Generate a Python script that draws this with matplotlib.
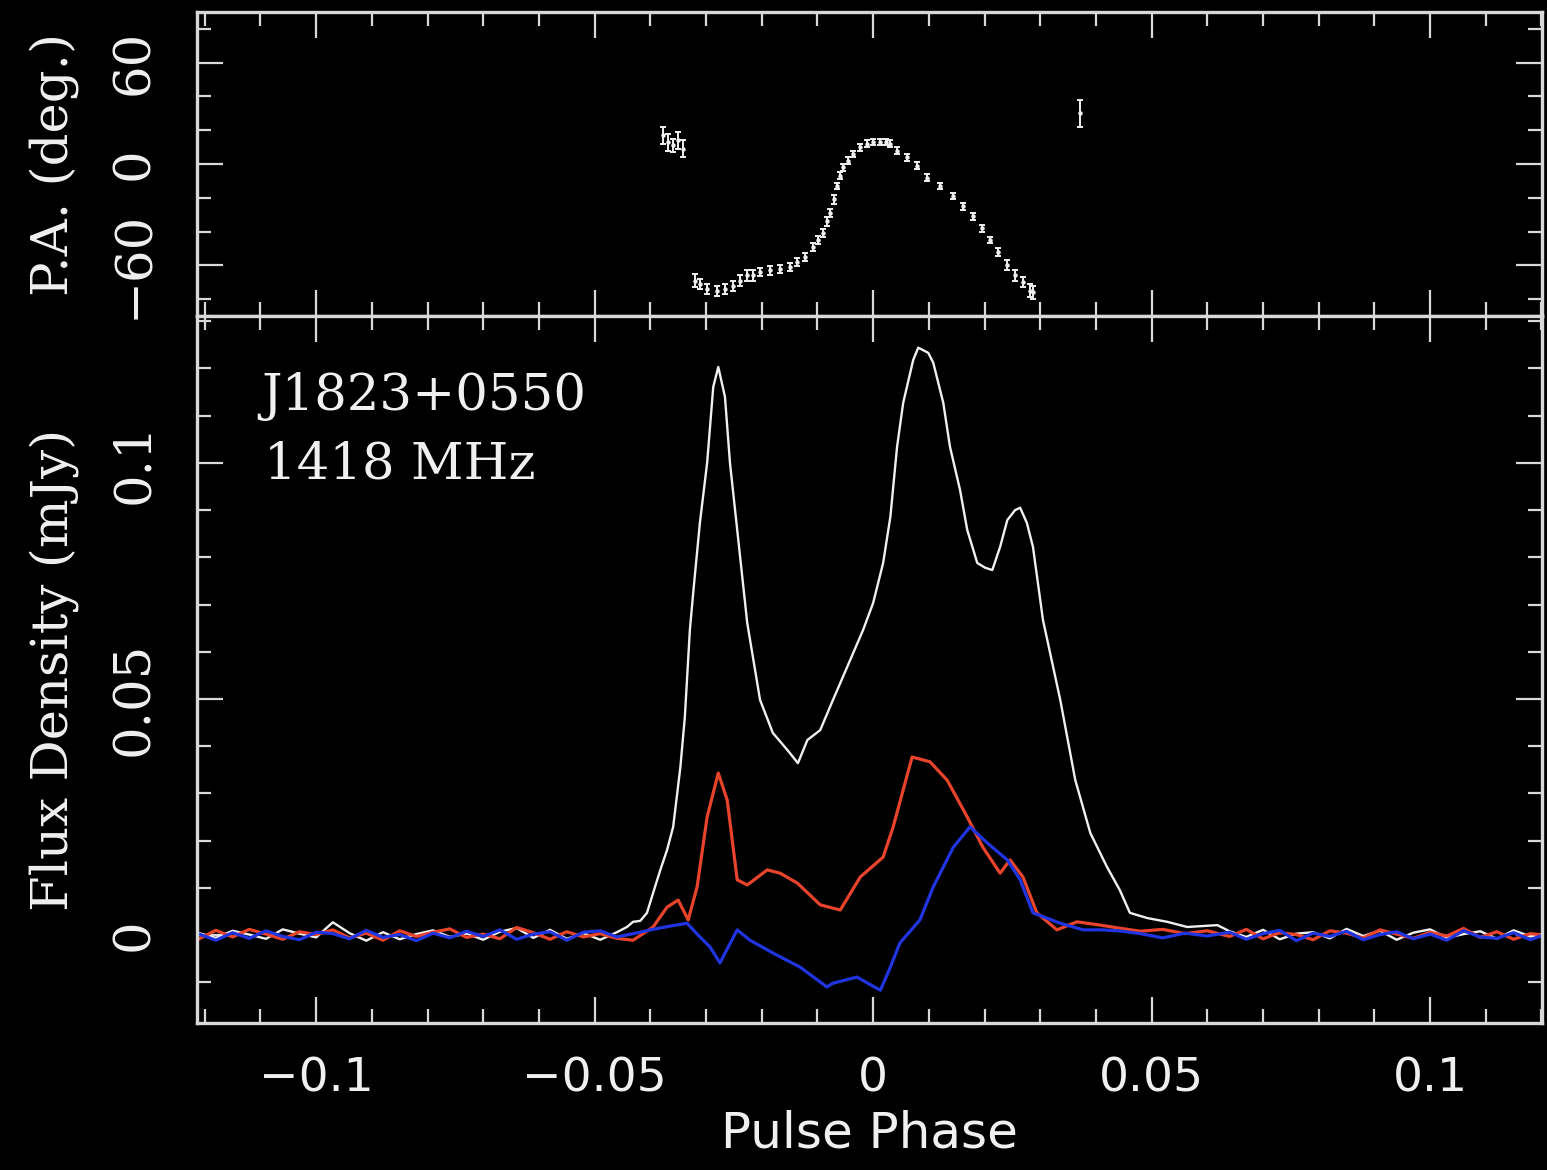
import numpy as np
import matplotlib.pyplot as plt
from matplotlib.ticker import MultipleLocator, FuncFormatter

BG = "black"
FG = "#d8d8d8"
WHITE = "#f0f0f0"
RED = "#e8432b"
BLUE = "#2034e0"

# off-pulse sample phases
base_left = np.arange(-0.121, -0.0455, 0.003)
base_right = np.arange(0.064, 0.1215, 0.003)

# total intensity (mJy)
i_left = [0.0004, -0.0006, 0.0009, 0.0001, -0.0008, 0.0012, 0.0003, -0.0005, 0.0027,
          0.0004, -0.0012, 0.0006, -0.0009, 0.0002, 0.0010, -0.0004, 0.0003, -0.0010,
          0.0007, 0.0015, -0.0006, 0.0011, -0.0008, 0.0004, -0.0010, 0.0006]
i_right = [0.0008, -0.0004, 0.0011, -0.0009, 0.0003, 0.0006, -0.0007, 0.0013, -0.0002,
           0.0009, -0.0010, 0.0005, 0.0012, -0.0006, 0.0002, 0.0008, -0.0008, 0.0010,
           -0.0003, 0.0004]
i_phase = [-0.0442, -0.0431, -0.0418, -0.0406, -0.0395, -0.0382, -0.0370, -0.0359,
           -0.0346, -0.0338, -0.0329, -0.0323, -0.0311, -0.0298, -0.0287, -0.0278,
           -0.0266, -0.0257, -0.0244, -0.0226, -0.0203, -0.0180, -0.0154, -0.0135,
           -0.0118, -0.0095, -0.0072, -0.0045, -0.0018, 0.0, 0.0018, 0.0031, 0.0043,
           0.0054, 0.0072, 0.0081, 0.0099, 0.0108, 0.0126, 0.0138, 0.0156, 0.0169,
           0.0187, 0.0201, 0.0214, 0.0228, 0.0241, 0.0255, 0.0264, 0.0276, 0.0287,
           0.0305, 0.0336, 0.0363, 0.0390, 0.0420, 0.0443, 0.0461, 0.0492, 0.0528,
           0.0564, 0.0618]
i_flux = [0.0017, 0.0028, 0.0030, 0.0047, 0.0089, 0.0138, 0.0180, 0.0229, 0.0356,
          0.0462, 0.0646, 0.0725, 0.0873, 0.1000, 0.1161, 0.1203, 0.1140, 0.1000,
          0.0858, 0.0661, 0.0498, 0.0428, 0.0392, 0.0364, 0.0413, 0.0434, 0.0498,
          0.0572, 0.0646, 0.0703, 0.0788, 0.0886, 0.1034, 0.1127, 0.1218, 0.1244,
          0.1233, 0.1212, 0.1127, 0.1034, 0.0943, 0.0858, 0.0788, 0.0778, 0.0773,
          0.0822, 0.0879, 0.0900, 0.0905, 0.0873, 0.0822, 0.0667, 0.0498, 0.0328,
          0.0216, 0.0144, 0.0095, 0.0047, 0.0036, 0.0028, 0.0017, 0.0021]

# linear polarisation (mJy)
l_left = [-0.0008, 0.0010, -0.0004, 0.0012, 0.0002, -0.0009, 0.0007, 0.0001, 0.0011,
          -0.0006, 0.0004, -0.0011, 0.0009, -0.0003, 0.0006, 0.0013, -0.0005, 0.0002,
          -0.0008, 0.0016, 0.0005, -0.0009, 0.0007, -0.0004, 0.0003, -0.0007]
l_right = [-0.0003, 0.0012, -0.0008, 0.0005, 0.0001, -0.0010, 0.0009, 0.0004, -0.0006,
           0.0011, 0.0002, -0.0007, 0.0006, -0.0002, 0.0014, -0.0005, 0.0007, -0.0009,
           0.0003, -0.0001]
l_phase = [-0.0431, -0.0395, -0.0370, -0.0350, -0.0332, -0.0316, -0.0298, -0.0278,
           -0.0262, -0.0244, -0.0226, -0.0190, -0.0167, -0.0136, -0.0095, -0.0059,
           -0.0023, 0.0018, 0.0036, 0.0070, 0.0102, 0.0133, 0.0169, 0.0197, 0.0228,
           0.0246, 0.0269, 0.0294, 0.0330, 0.0366, 0.0408, 0.044, 0.048, 0.052, 0.056,
           0.060]
l_flux = [-0.0011, 0.0017, 0.0059, 0.0074, 0.0032, 0.0102, 0.0250, 0.0343, 0.0286,
          0.0117, 0.0106, 0.0138, 0.0131, 0.0110, 0.0064, 0.0053, 0.0123, 0.0165,
          0.0229, 0.0377, 0.0367, 0.0328, 0.0250, 0.0186, 0.0131, 0.0159, 0.0123,
          0.0047, 0.0011, 0.0028, 0.0021, 0.0015, 0.0008, 0.0012, 0.0003, 0.0009]

# circular polarisation (mJy)
v_left = [0.0002, -0.0011, 0.0005, -0.0007, 0.0009, -0.0003, -0.0010, 0.0006, 0.0003,
          -0.0008, 0.0010, -0.0005, 0.0001, -0.0012, 0.0004, -0.0006, 0.0008, -0.0003,
          0.0011, -0.0009, 0.0002, 0.0007, -0.0011, 0.0006, 0.0009, -0.0004]
v_right = [0.0006, -0.0009, 0.0003, 0.0010, -0.0012, 0.0004, -0.0003, 0.0008, -0.0010,
           0.0001, 0.0007, -0.0008, 0.0002, -0.0011, 0.0009, -0.0004, -0.0007, 0.0005,
           -0.0010, 0.0003]
v_phase = [-0.043, -0.0400, -0.0364, -0.0334, -0.0311, -0.0293, -0.0275, -0.0244,
           -0.0221, -0.0180, -0.0131, -0.0083, -0.0072, -0.0029, 0.0013, 0.0031, 0.0048,
           0.0084, 0.0108, 0.0144, 0.0174, 0.0205, 0.0241, 0.0264, 0.0287, 0.0336,
           0.0377, 0.0408, 0.044, 0.048, 0.052, 0.056, 0.060]
v_flux = [0.0003, 0.0011, 0.0019, 0.0025, -0.0004, -0.0025, -0.0059, 0.0011, -0.0011,
          -0.0038, -0.0068, -0.0110, -0.0102, -0.0089, -0.0117, -0.0068, -0.0017,
          0.0032, 0.0102, 0.0186, 0.0229, 0.0195, 0.0159, 0.0117, 0.0047, 0.0025,
          0.0011, 0.0011, 0.0009, 0.0003, -0.0006, 0.0004, -0.0002]

# position angle (deg)
pa_phase = [-0.0377, -0.0368, -0.0359, -0.0350, -0.0341,
            -0.0320, -0.0311, -0.0298, -0.0280, -0.0266, -0.0251, -0.0239, -0.0226,
            -0.0215, -0.0203, -0.0185, -0.0167, -0.0149, -0.0136, -0.0122, -0.0108,
            -0.0099, -0.0090, -0.0083, -0.0077, -0.0070, -0.0065, -0.0059, -0.0054,
            -0.0045, -0.0036, -0.0023, -0.0011, 0.0, 0.0013, 0.0023, 0.0031, 0.0043,
            0.0061, 0.0079, 0.0097, 0.0120, 0.0144, 0.0162, 0.0180, 0.0196, 0.0210,
            0.0224, 0.0241, 0.0255, 0.0269, 0.0282, 0.0287, 0.0372]
pa_deg = [17, 13, 11, 14, 9,
          -69, -71, -74, -75, -74, -72, -69, -66, -66, -64, -63, -62, -61, -58, -55,
          -49, -45, -41, -34, -29, -21, -13, -7, -2, 2, 6, 10, 12, 13, 13, 13, 12, 8,
          4, -1, -8, -13, -19, -25, -31, -38, -45, -52, -60, -66, -70, -75, -76, 30]
pa_err = [5, 5, 4, 5, 5,
          4, 3, 3, 3, 3, 3, 3, 3, 3, 2.5, 2.5, 2.5, 2.5, 2.5, 2.5, 2.5, 2.5, 2.5,
          2.5, 2.5, 2.5, 2, 2, 2, 2, 2, 2, 2, 2, 2, 2, 2, 2, 2, 2, 2, 2, 2, 2, 2,
          2, 2, 2.5, 3, 3, 3, 4, 4, 8]


def fmt(v, pos):
    s = f"{v:g}"
    return s.replace("-", "\u2212")


def style(ax):
    ax.set_facecolor(BG)
    for s in ax.spines.values():
        s.set_color(FG)
        s.set_linewidth(2.4)
    ax.tick_params(which="both", direction="in", top=True, right=True,
                   colors=FG, width=1.6)
    ax.tick_params(which="major", length=19)
    ax.tick_params(which="minor", length=10)
    ax.set_xlim(-0.1214, 0.1201)
    ax.xaxis.set_major_locator(MultipleLocator(0.05))
    ax.xaxis.set_minor_locator(MultipleLocator(0.01))


fig = plt.figure(figsize=(15.47, 11.7), dpi=100, facecolor=BG)
ax_pa = fig.add_axes([0.1273, 0.7299, 0.8695, 0.2598])
ax = fig.add_axes([0.1273, 0.1256, 0.8695, 0.6043])

# P.A. panel
style(ax_pa)
ax_pa.errorbar(pa_phase, pa_deg, yerr=pa_err, fmt="o", ms=2.2, color=WHITE,
               ecolor=WHITE, elinewidth=1.4, capsize=2.5, capthick=1.4)
ax_pa.set_ylim(-90, 90)
ax_pa.yaxis.set_major_locator(MultipleLocator(60))
ax_pa.yaxis.set_minor_locator(MultipleLocator(20))
ax_pa.yaxis.set_major_formatter(FuncFormatter(fmt))
ax_pa.tick_params(axis="x", labelbottom=False)
ax_pa.tick_params(axis="y", pad=27, labelsize=37, labelcolor=WHITE)
for lbl in ax_pa.get_yticklabels():
    lbl.set_rotation(90)
    lbl.set_va("center")
    lbl.set_family("DejaVu Serif")
ax_pa.set_ylabel("P.A. (deg.)", fontsize=37, family="DejaVu Serif", color=WHITE,
                 labelpad=22)

# profile panel
style(ax)
ax.plot(np.concatenate([base_left, i_phase, base_right]),
        np.concatenate([i_left, i_flux, i_right]), color=WHITE, lw=1.7)
ax.plot(np.concatenate([base_left, l_phase, base_right]),
        np.concatenate([l_left, l_flux, l_right]), color=RED, lw=2.3)
ax.plot(np.concatenate([base_left, v_phase, base_right]),
        np.concatenate([v_left, v_flux, v_right]), color=BLUE, lw=2.3)
ax.set_ylim(-0.01864, 0.1311)
ax.yaxis.set_major_locator(MultipleLocator(0.05))
ax.yaxis.set_minor_locator(MultipleLocator(0.01))
ax.yaxis.set_major_formatter(FuncFormatter(fmt))
ax.xaxis.set_major_formatter(FuncFormatter(fmt))
ax.tick_params(axis="y", pad=27, labelsize=37, labelcolor=WHITE)
ax.tick_params(axis="x", pad=24, labelsize=34, labelcolor=WHITE)
for lbl in ax.get_yticklabels():
    lbl.set_rotation(90)
    lbl.set_va("center")
    lbl.set_family("DejaVu Serif")
ax.set_ylabel("Flux Density (mJy)", fontsize=37, family="DejaVu Serif",
              color=WHITE, labelpad=22)
ax.set_xlabel("Pulse Phase", fontsize=36, color=WHITE, labelpad=6)

ax.text(0.048, 0.921, "J1823+0550", transform=ax.transAxes, ha="left", va="top",
        fontsize=37, family="DejaVu Serif", color=WHITE)
ax.text(0.050, 0.825, "1418 MHz", transform=ax.transAxes, ha="left", va="top",
        fontsize=37, family="DejaVu Serif", color=WHITE)

fig.savefig("out.png", dpi=100, facecolor=BG)
